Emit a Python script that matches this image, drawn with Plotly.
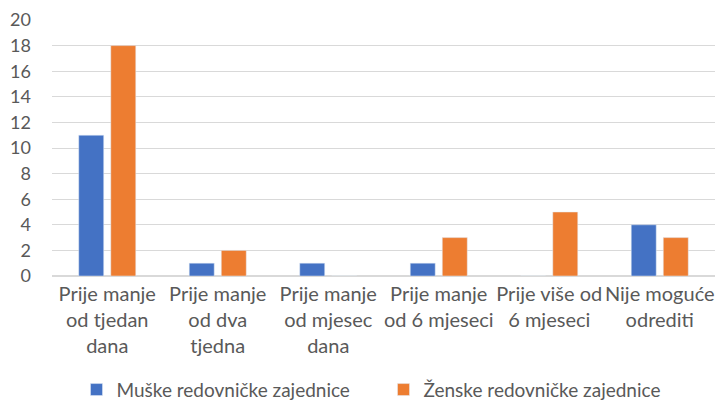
import plotly.graph_objects as go

categories = [
    "Prije manje<br>od tjedan<br>dana",
    "Prije manje<br>od dva<br>tjedna",
    "Prije manje<br>od mjesec<br>dana",
    "Prije manje<br>od 6 mjeseci",
    "Prije više od<br>6 mjeseci",
    "Nije moguće<br>odrediti",
]
muske = [11, 1, 1, 1, 0, 4]
zenske = [18, 2, 0, 3, 5, 3]
series_names = ["Muške redovničke zajednice", "Ženske redovničke zajednice"]
y_ticks = list(range(0, 21, 2))

font_family = "Lato, Open Sans, sans-serif"
text_color = "#595959"

fig = go.Figure()
fig.add_trace(go.Bar(x=categories, y=muske, name=series_names[0], marker_color="#4472C4"))
fig.add_trace(go.Bar(x=categories, y=zenske, name=series_names[1], marker_color="#ED7D31"))

fig.update_layout(
    width=727, height=415,
    margin=dict(l=52, r=12, t=20, b=139, autoexpand=False),
    paper_bgcolor="white", plot_bgcolor="white",
    barmode="group", bargap=0.42, bargroupgap=0.22,
    font=dict(family=font_family, size=19, color=text_color),
    legend=dict(orientation="h", x=0.5, xanchor="center", y=-0.37, yanchor="top",
                font=dict(size=19, color=text_color), itemwidth=30,
                traceorder="normal", entrywidth=262),
    xaxis=dict(showgrid=False, showline=False, ticks="", tickfont=dict(size=20, color=text_color),
               tickangle=0, automargin=False, ticklabelstandoff=4),
    yaxis=dict(range=[0, 20], tickvals=y_ticks, showgrid=True, gridcolor="#D9D9D9",
               gridwidth=1, zeroline=True, zerolinecolor="#D9D9D9", showline=False,
               tickfont=dict(size=18, color=text_color), ticks="", ticklabelstandoff=20,
               automargin=False),
)

fig.write_html("out.html", config={"displayModeBar": False},
               post_script="document.body.style.margin='0px';")
